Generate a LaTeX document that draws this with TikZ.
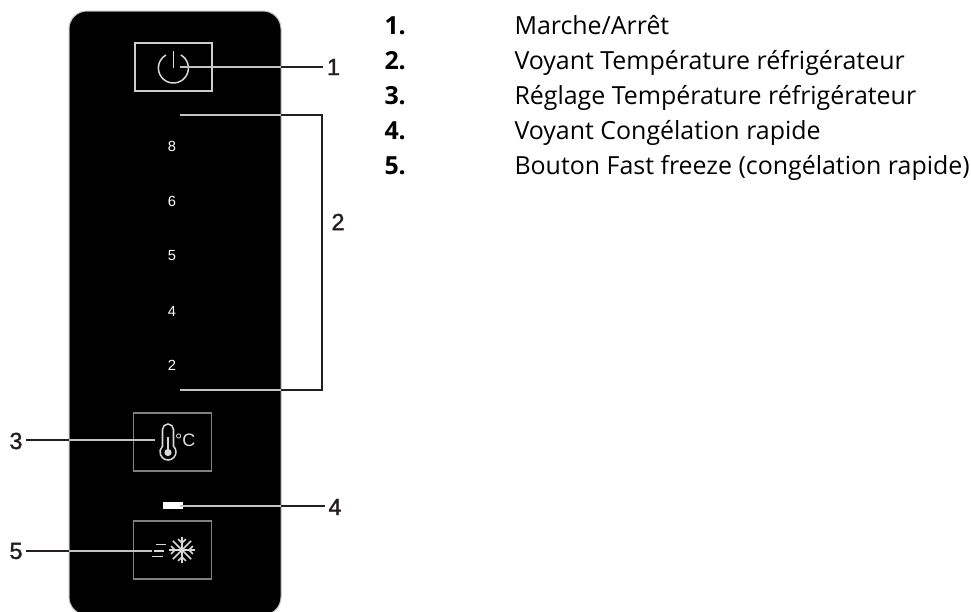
\documentclass[tikz,border=0pt]{standalone}
\usepackage{fontspec}
\setsansfont{Liberation Sans}
\newfontfamily\callfont[FakeBold=1.5]{Liberation Sans}
\newfontfamily\listfont{Open Sans}
\tikzset{every picture/.style={line width=0.75pt},
  panelface/.style={color={rgb, 255:red, 190; green, 190; blue, 190 },fill={rgb, 255:red, 0; green, 0; blue, 0 },line width=0.75,rounded corners=13.5pt},
  btnbox/.style={draw={rgb, 255:red, 128; green, 128; blue, 128 },line width=1.1pt,minimum width=58.5pt,minimum height=43.5pt,inner sep=0pt},
  iconline/.style={color={rgb, 255:red, 215; green, 215; blue, 215 },line width=1.15pt},
  leaderin/.style={color={rgb, 255:red, 195; green, 195; blue, 195 },line width=1.6pt},
  leaderout/.style={color={rgb, 255:red, 35; green, 31; blue, 32 },line width=1.6pt},
  calllabel/.style={font=\callfont\fontsize{17.5}{18}\selectfont,text={rgb, 255:red, 35; green, 31; blue, 32 },inner sep=2.5pt},
  scalelabel/.style={font=\sffamily\fontsize{11}{12}\selectfont,text=white,inner sep=0pt},
  listnum/.style={font=\listfont\bfseries\fontsize{18.7}{20}\selectfont,anchor=base west,inner sep=0pt},
  listtext/.style={font=\listfont\fontsize{18.7}{20}\selectfont,anchor=base west,inner sep=0pt}
}
\begin{document}
\begin{tikzpicture}[x=0.75pt,y=0.75pt,yscale=-1,xscale=1]
\useasboundingbox (0,0) rectangle (971,611);

%Shape: Panel
\begin{scope}
\clip (0,0) rectangle (971,611);
\draw [panelface] (69,615) -- (69,11) -- (281,11) -- (281,615) -- cycle;
\end{scope}

%Shape: Buttons
\node (btnpower) [btnbox,draw={rgb, 255:red, 205; green, 205; blue, 205 },minimum width=57.75pt,minimum height=36pt] at (173.5,67) {};
\node (btntemp) [btnbox] at (172.75,442) {};
\node (btnfreeze) [btnbox] at (172.75,550) {};
%Shape: Led
\node (led) [fill=white,inner sep=0pt,minimum width=15pt,minimum height=5.25pt] at (173,505.5) {};

%Power icon
\draw [iconline] (173.4,68) ++(-60:15) arc (-60:240:15);
\draw [iconline] (173.4,51) -- (173.4,68);

%Thermometer icon
\draw [iconline] (162.5,446.2) -- (162.5,429.5) arc (180:360:5.5) -- (173.5,446.2) arc (-46.5:226.5:8) -- cycle;
\draw [iconline,line width=1.6pt] (168,437) -- (168,450);
\fill [color={rgb, 255:red, 215; green, 215; blue, 215 }] (168,452.5) circle (3.6);
\node (tempunit) [font=\sffamily\fontsize{13.5}{15}\selectfont,text={rgb, 255:red, 225; green, 225; blue, 225 },inner sep=0pt] at (185.3,440) {°C};

%Speed lines
\draw [iconline] (156,544.5) -- (166,544.5);
\draw [iconline] (154,551) -- (164,551);
\draw [iconline] (152,556.5) -- (163,556.5);

%Snowflake icon
\foreach \ang in {0,45,...,315}{
  \draw [iconline] (182,550) -- ++(\ang:13);
}
\foreach \ang in {0,90,180,270}{
  \draw [iconline] (182,550) ++(\ang:7) -- ++(\ang+45:5.5);
  \draw [iconline] (182,550) ++(\ang:7) -- ++(\ang-45:5.5);
}

% Text Node
\node (scale8) [scalelabel] at (172,146) {8};
\node (scale6) [scalelabel] at (172,201) {6};
\node (scale5) [scalelabel] at (172,256) {5};
\node (scale4) [scalelabel] at (172,311) {4};
\node (scale2) [scalelabel] at (172,365) {2};

% Text Node
\node (lab1) [calllabel] at (333.5,67) {1};
\node (lab2) [calllabel] at (338,222) {2};
\node (lab3) [calllabel] at (16,441) {3};
\node (lab4) [calllabel] at (335,507) {4};
\node (lab5) [calllabel] at (16,551) {5};

\coordinate (tippower) at (180,66.7);
\coordinate (edgepower) at (281,66.7);
\coordinate (tiptop) at (180,115.3);
\coordinate (edgetop) at (281,115.3);
\coordinate (cornertop) at (322,115.3);
\coordinate (tipbot) at (180,390);
\coordinate (edgebot) at (281,390);
\coordinate (cornerbot) at (322,390);
\coordinate (tiptemp) at (155,440);
\coordinate (edgetemp) at (69,440);
\coordinate (tipled) at (180,505.7);
\coordinate (edgeled) at (281,505.7);
\coordinate (tipfreeze) at (152,551);
\coordinate (edgefreeze) at (69,551);

%Straight Lines
\draw [leaderin] (tippower) -- (edgepower);
\draw [leaderout] (edgepower) -- (lab1.west |- edgepower);
\draw [leaderin] (tiptop) -- (edgetop);
\draw [leaderin] (tipbot) -- (edgebot);
\draw [leaderout] (edgetop) -- (cornertop) -- (cornerbot) -- (edgebot);
\draw [leaderin] (tiptemp) -- (edgetemp);
\draw [leaderout] (edgetemp) -- (lab3.east |- edgetemp);
\draw [leaderin] (tipled) -- (edgeled);
\draw [leaderout] (edgeled) -- (lab4.west |- edgeled);
\draw [leaderin] (tipfreeze) -- (edgefreeze);
\draw [leaderout] (edgefreeze) -- (lab5.east |- edgefreeze);

% Text Node
\node (num1) [listnum] at (384,34) {1.};
\node (num2) [listnum] at (384,69.5) {2.};
\node (num3) [listnum] at (384,104.5) {3.};
\node (num4) [listnum] at (384,139.5) {4.};
\node (num5) [listnum] at (384,174.5) {5.};
\node (item1) [listtext] at (514,34) {Marche/Arrêt};
\node (item2) [listtext] at (514,69.5) {Voyant Température réfrigérateur};
\node (item3) [listtext] at (514,104.5) {Réglage Température réfrigérateur};
\node (item4) [listtext] at (514,139.5) {Voyant Congélation rapide};
\node (item5) [listtext] at (514,174.5) {Bouton Fast freeze (congélation rapide)};
\end{tikzpicture}
\end{document}
